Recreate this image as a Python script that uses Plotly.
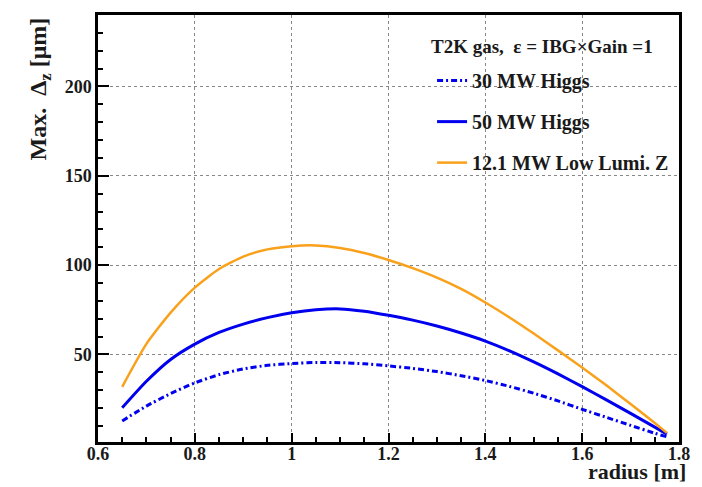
import plotly.graph_objects as go

radius = [0.65, 0.70, 0.75, 0.80, 0.85, 0.90, 0.95, 1.00, 1.05, 1.10, 1.15, 1.20,
          1.25, 1.30, 1.35, 1.40, 1.45, 1.50, 1.55, 1.60, 1.65, 1.70, 1.75, 1.775]

higgs30 = [12.8, 21.1, 28.1, 34.1, 38.7, 41.9, 43.9, 44.9, 45.5, 45.4, 44.8, 43.6,
           42.2, 40.4, 38.1, 35.4, 32.1, 28.3, 24.0, 19.3, 14.8, 10.3, 5.9, 3.9]
higgs50 = [20.2, 35.0, 47.2, 55.8, 62.3, 67.0, 70.6, 73.3, 75.0, 75.5, 74.2, 71.9,
           69.2, 65.9, 62.0, 57.5, 52.0, 45.8, 39.1, 32.0, 24.6, 17.0, 9.3, 5.4]
lowlumiZ = [31.9, 55.9, 73.4, 87.4, 97.8, 104.8, 108.8, 110.6, 111.0, 109.6, 106.8, 102.9,
            98.3, 93.0, 86.7, 79.1, 70.7, 61.7, 52.3, 42.7, 32.7, 22.3, 11.6, 6.1]

names = ["30 MW Higgs", "50 MW Higgs", "12.1 MW Low Lumi. Z"]
legend_header = "T2K gas,  \u03b5 = IBG\u00d7Gain =1"
x_ticks = [0.6, 0.8, 1.0, 1.2, 1.4, 1.6, 1.8]
x_ticklabels = ["0.6", "0.8", "1", "1.2", "1.4", "1.6", "1.8"]
y_ticks = [50, 100, 150, 200]

BLUE = "#0000ee"
ORANGE = "#f9a11b"
FONT = "Liberation Serif"
TXT = "#1a1a1a"
SM = 0.6

fig = go.Figure()
fig.add_trace(go.Scatter(x=radius, y=higgs30, mode="lines", name="<b>" + names[0] + "</b>", legendgroup="a",
                         line=dict(color=BLUE, width=3, dash="6px,3px,2px,3px", shape="spline", smoothing=SM)))
fig.add_trace(go.Scatter(x=radius, y=higgs50, mode="lines", name="<b>" + names[1] + "</b>", legendgroup="b",
                         line=dict(color=BLUE, width=3, shape="spline", smoothing=SM)))
fig.add_trace(go.Scatter(x=radius, y=lowlumiZ, mode="lines", name="<b>" + names[2] + "</b>", legendgroup="c",
                         line=dict(color=ORANGE, width=2.5, shape="spline", smoothing=SM)))

fig.update_layout(
    width=702, height=487,
    margin=dict(l=98, r=12, t=13, b=45),
    paper_bgcolor="white", plot_bgcolor="white",
    font=dict(family=FONT, color=TXT),
    legend=dict(
        x=0.575, y=0.892, xanchor="left", yanchor="top",
        bgcolor="rgba(0,0,0,0)", borderwidth=0,
        font=dict(family=FONT, size=20, color=TXT),
        itemwidth=30, tracegroupgap=12,
    ),
    showlegend=True,
)

fig.update_xaxes(
    range=[0.6, 1.8], tickvals=x_ticks, ticktext=["<b>" + t + "</b>" for t in x_ticklabels],
    ticks="inside", ticklen=9, tickwidth=1.5, tickcolor="black", ticklabelstandoff=-6,
    minor=dict(dtick=0.05, ticks="inside", ticklen=5, tickwidth=1.5, tickcolor="black", showgrid=False),
    showline=True, linecolor="black", linewidth=2.5, mirror=True,
    showgrid=True, gridcolor="#888", griddash="dot", gridwidth=1,
    tickfont=dict(family=FONT, size=18, color=TXT), zeroline=False,
)
fig.update_yaxes(
    range=[1, 240], tickvals=y_ticks, ticktext=["<b>%d</b>" % v for v in y_ticks],
    ticks="inside", ticklen=11, tickwidth=1.5, tickcolor="black",
    minor=dict(dtick=10, tick0=0, ticks="inside", ticklen=5, tickwidth=1.5, tickcolor="black", showgrid=False),
    showline=True, linecolor="black", linewidth=2.5, mirror=True,
    showgrid=True, gridcolor="#888", griddash="dot", gridwidth=1,
    tickfont=dict(family=FONT, size=18, color=TXT), zeroline=False,
)

# legend header
fig.add_annotation(text="<b>" + legend_header + "</b>", xref="paper", yref="paper",
                   x=(435 - 98) / 592, y=(442 - 45) / 429, xanchor="left", yanchor="middle",
                   showarrow=False, font=dict(family=FONT, size=19, color=TXT))
fig.add_annotation(text="<b>Max.  \u0394<sub>z</sub> [\u03bcm]</b>", xref="paper", yref="paper",
                   x=-0.1, y=1.0, xanchor="center", yanchor="top", textangle=-90, showarrow=False,
                   font=dict(family=FONT, size=24, color=TXT))
fig.add_annotation(text="<b>radius [m]</b>", xref="paper", yref="paper",
                   x=1.015, y=-0.104, xanchor="right", yanchor="bottom", showarrow=False,
                   font=dict(family=FONT, size=22, color=TXT))

fig.write_html("out.html")
